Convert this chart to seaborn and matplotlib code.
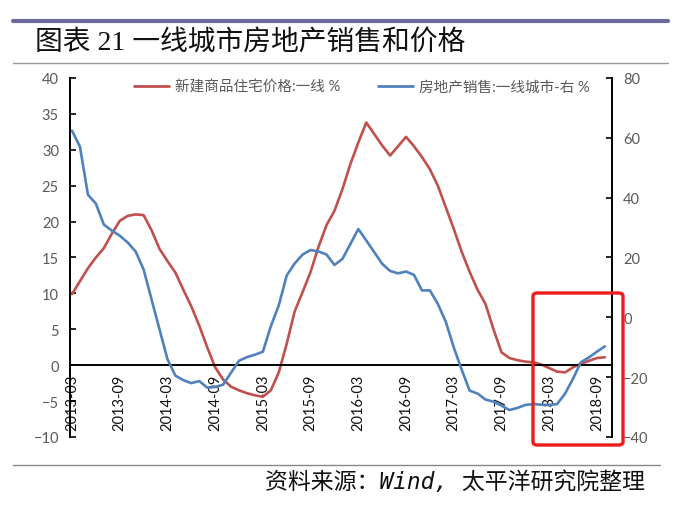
import numpy as np
import pandas as pd
import seaborn as sns
import matplotlib.pyplot as plt
from matplotlib.patches import FancyBboxPatch
from matplotlib.lines import Line2D

# monthly data, 2013-03 .. 2018-10
price = [9.9, 11.7, 13.5, 15.0, 16.3, 18.3, 20.1, 20.8, 21.0, 20.9,
         18.8, 16.2, 14.5, 12.9, 10.5, 8.2, 5.5, 2.5, -0.3, -2.0,
         -3.0, -3.5, -3.9, -4.2, -4.4, -3.5, -1.0, 3.0, 7.5, 10.2,
         13.0, 16.5, 19.5, 21.5, 24.5, 28.0, 31.0, 33.8, 32.2, 30.6,
         29.2, 30.5, 31.8, 30.5, 29.0, 27.3, 25.0, 22.0, 19.0, 15.8,
         13.0, 10.5, 8.5, 5.0, 1.8, 1.0, 0.7, 0.5, 0.4, 0.1,
         -0.4, -0.9, -1.0, -0.3, 0.2, 0.6, 1.0, 1.1]
sales = [62.4, 57.0, 41.0, 38.0, 31.0, 29.0, 27.3, 25.0, 22.0, 16.0,
         6.0, -4.0, -14.0, -19.5, -21.0, -22.0, -21.3, -23.5, -23.3, -22.5,
         -18.5, -14.5, -13.3, -12.5, -11.5, -3.0, 4.0, 14.0, 18.0, 21.0,
         22.5, 22.0, 21.0, 17.5, 19.5, 24.5, 29.5, 25.7, 21.8, 17.9,
         15.5, 14.7, 15.3, 14.2, 9.0, 9.0, 4.5, -1.5, -10.0, -17.5,
         -24.5, -25.5, -27.5, -28.2, -29.5, -31.0, -30.3, -29.3, -29.0, -29.2,
         -29.3, -29.0, -25.5, -20.5, -15.0, -13.4, -11.5, -9.7]
months = pd.period_range("2013-03", periods=len(price), freq="M").strftime("%Y-%m")

price_label = "新建商品住宅价格:一线 %"
sales_label = "房地产销售:一线城市-右 %"
title = "图表 21 一线城市房地产销售和价格"
source = "资料来源：Wind, 太平洋研究院整理"

sns.set_style("white")
plt.rcParams["font.family"] = ["Lato", "Noto Sans CJK SC", "DejaVu Sans"]

df = pd.DataFrame({"t": np.arange(len(price)), "price": price, "sales": sales})

red = "#c0504d"
blue = "#4f81bd"
grey = "#595959"

fig = plt.figure(figsize=(6.76, 5.06), dpi=100)
ax = fig.add_axes([0.1036, 0.1344, 0.8017, 0.7095])
ax2 = ax.twinx()

sns.lineplot(data=df, x="t", y="price", ax=ax, color=red, lw=1.9)
sns.lineplot(data=df, x="t", y="sales", ax=ax2, color=blue, lw=1.9)

ax.set_xlim(-0.25, 67.9)
ax.set_ylim(-10, 40)
ax.set_yticks(np.arange(-10, 41, 5))
ax2.set_ylim(-40, 80)
ax2.set_yticks(np.arange(-40, 81, 20))

ticks = np.arange(0, len(months), 6)
ax.set_xticks(ticks)
ax.set_xticklabels([months[i] for i in ticks])
ax.set_xlabel("")
ax.set_ylabel("")
ax2.set_ylabel("")

for a in (ax, ax2):
    for s in a.spines.values():
        s.set_visible(False)
ax.spines["left"].set_visible(True)
ax.spines["left"].set_color("black")
ax.spines["left"].set_linewidth(1.4)
ax.spines["bottom"].set_visible(True)
ax.spines["bottom"].set_position(("data", 0))
ax.spines["bottom"].set_color("black")
ax.spines["bottom"].set_linewidth(1.4)
ax2.spines["right"].set_visible(True)
ax2.spines["right"].set_color("black")
ax2.spines["right"].set_linewidth(1.4)

ax.tick_params(axis="y", direction="in", length=4, width=1.2, colors="black",
               labelcolor=grey, labelsize=10.5, pad=8)
ax.tick_params(axis="x", direction="in", length=4, width=1.2, colors="black",
               labelcolor="#111111", labelsize=10.5, pad=6, labelrotation=90)
ax2.tick_params(axis="y", direction="in", length=4, width=1.2, colors="black",
                labelcolor=grey, labelsize=10.5, pad=8)
for lab in ax.get_xticklabels():
    lab.set_va("top")

handles = [Line2D([], [], color=red, lw=2), Line2D([], [], color=blue, lw=2)]
fig.legend(handles, [price_label, sales_label], loc="center", ncol=2,
           bbox_to_anchor=(0.535, 0.826), frameon=False, fontsize=10.5,
           handlelength=2.4, handletextpad=0.4, columnspacing=2.6,
           labelcolor=grey)

# highlight box around 2018
box = FancyBboxPatch((533 / 676, 1 - 446 / 506), 90 / 676, 152 / 506,
                     boxstyle="round,pad=0,rounding_size=0.006",
                     transform=fig.transFigure, fill=False,
                     edgecolor="#ee1c1c", lw=2.4, zorder=10)
fig.patches.append(box)

# header and footer
fig.add_artist(Line2D([13 / 676, 668 / 676], [1 - 22 / 506] * 2, color="#6c6c9c", lw=3))
fig.add_artist(Line2D([13 / 676, 668 / 676], [1 - 64 / 506] * 2, color="#999999", lw=1))
fig.add_artist(Line2D([13 / 676, 660 / 676], [1 - 466 / 506] * 2, color="#888888", lw=1))
fig.text(35 / 676, 1 - 44 / 506, title, fontsize=20, va="center", ha="left",
         family=["Liberation Serif", "Noto Sans CJK SC"], color="#111111")
fig.text(645 / 676, 1 - 482 / 506, source, fontsize=16.5, va="center", ha="right",
         style="italic", family=["DejaVu Sans Mono", "Noto Sans CJK SC"], color="#111111")

fig.savefig("out.png", dpi=100)
